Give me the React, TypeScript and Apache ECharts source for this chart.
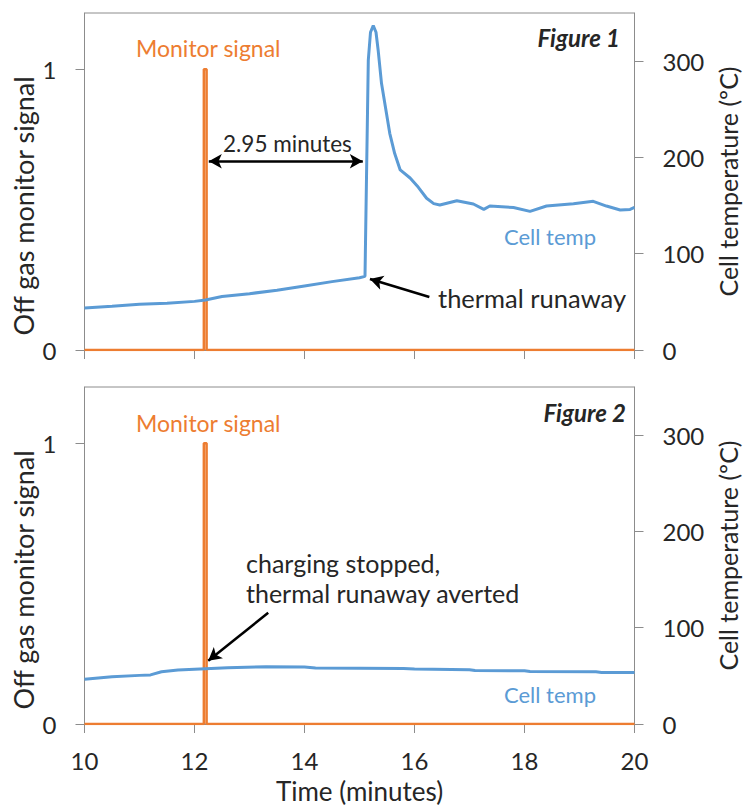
import React, { useEffect, useRef } from "react";
import * as echarts from "echarts";

// ---- data ----
const xTicks = [10, 12, 14, 16, 18, 20];
const signalTicks = [0, 1];
const tempTicks = [0, 100, 200, 300];

// Figure 1: cell temperature (°C) vs time (minutes)
const fig1Temp: [number, number][] = [
  [10, 43.6], [10.5, 45.5], [11, 47.5], [11.5, 48.5], [12, 50.5], [12.2, 52],
  [12.5, 55.5], [13, 58.5], [13.5, 62], [14, 66.5], [14.5, 71], [15, 75],
  [15.1, 76.5], [15.16, 301], [15.2, 330], [15.25, 337], [15.3, 330],
  [15.34, 311], [15.4, 277], [15.49, 246], [15.55, 225], [15.64, 204],
  [15.74, 187], [15.92, 178.6], [16.07, 169], [16.22, 157.6], [16.35, 152],
  [16.46, 150.6], [16.77, 155], [17.07, 151.6], [17.26, 146], [17.37, 149.5],
  [17.8, 148], [18.1, 144], [18.4, 149.5], [18.89, 152], [19.25, 154.4],
  [19.49, 149.5], [19.74, 145.4], [19.92, 146], [20, 148],
];
// Figure 1: off gas monitor signal
const fig1Signal: [number, number][] = [
  [10, 0], [12.17, 0], [12.17, 1], [12.22, 1], [12.22, 0], [20, 0],
];

// Figure 2: cell temperature (°C)
const fig2Temp: [number, number][] = [
  [10, 46.4], [10.5, 49], [11, 50.5], [11.2, 51], [11.4, 54.3], [11.7, 56],
  [12.2, 57.4], [12.6, 58.3], [13.3, 59.5], [14, 59.3], [14.2, 58.2],
  [15.8, 57.6], [16, 57], [17, 56.3], [17.1, 55.5], [18, 55.2], [18.1, 54.5],
  [19.3, 54.2], [19.4, 53.6], [20, 53.6],
];
// Figure 2: off gas monitor signal
const fig2Signal: [number, number][] = [
  [10, 0], [12.17, 0], [12.17, 1], [12.22, 1], [12.22, 0], [20, 0],
];

// annotation arrows (data coordinates: [minutes, °C])
const gapArrow: [number, number][] = [[12.26, 196], [15.06, 196]];
const runawayArrow: [number, number][] = [[16.27, 55], [15.19, 73.7]];
const avertedArrow: [number, number][] = [[13.34, 115.5], [12.25, 65.7]];

const ORANGE = "#ED7D31";
const BLUE = "#5B9BD5";
const TEXT = "#262626";
const AXIS = "#8c8c8c";
const FONT = "Lato, 'Open Sans', sans-serif";

export default function App() {
  const ref = useRef<HTMLDivElement>(null);

  useEffect(() => {
    document.body.style.margin = "0";
    if (!ref.current) return;
    const chart = echarts.init(ref.current, null, { renderer: "svg" });

    const gridTop = [13, 387];
    const grids = gridTop.map((t) => ({
      left: 84.5,
      right: 108.5,
      top: t,
      height: 337,
      show: true,
      borderColor: AXIS,
      borderWidth: 1,
      backgroundColor: "transparent",
      containLabel: false,
      outerBoundsMode: "none",
    }));

    const xAxes = [0, 1].map((i) => ({
      type: "value",
      gridIndex: i,
      min: 10,
      max: 20,
      interval: 2,
      axisLine: { show: true, lineStyle: { color: AXIS, width: 1 } },
      axisTick: { show: true, length: 9, lineStyle: { color: AXIS } },
      splitLine: { show: false },
      axisLabel: {
        show: i === 1,
        color: TEXT,
        fontSize: 24,
        lineHeight: 24,
        fontFamily: FONT,
        margin: 24,
        customValues: xTicks,
      },
      name: i === 1 ? "Time (minutes)" : "",
      nameLocation: "middle",
      nameGap: 54,
      nameTextStyle: { color: TEXT, fontSize: 26, fontFamily: FONT, lineHeight: 26 },
    }));

    const yAxes: any[] = [];
    [0, 1].forEach((i) => {
      yAxes.push({
        type: "value",
        gridIndex: i,
        position: "left",
        min: 0,
        max: 1.2,
        interval: 1,
        axisLine: { show: true, lineStyle: { color: AXIS } },
        axisTick: { show: true, length: 9, lineStyle: { color: AXIS }, customValues: signalTicks },
        splitLine: { show: false },
        axisLabel: {
          color: TEXT,
          fontSize: 24,
          fontFamily: FONT,
          margin: 28,
          customValues: signalTicks,
        },
      });
      yAxes.push({
        type: "value",
        gridIndex: i,
        position: "right",
        min: 0,
        max: 350,
        interval: 100,
        axisLine: { show: true, lineStyle: { color: AXIS } },
        axisTick: { show: true, length: 9, lineStyle: { color: AXIS }, customValues: tempTicks },
        splitLine: { show: false },
        axisLabel: {
          color: TEXT,
          fontSize: 24,
          fontFamily: FONT,
          margin: 28,
          customValues: tempTicks,
        },
        name: "Cell temperature (ºC)",
        nameLocation: "middle",
        nameGap: 81,
        nameRotate: 90,
        nameTextStyle: { color: TEXT, fontSize: 25, fontFamily: FONT, lineHeight: 25 },
      });
    });

    const arrowLine = (pts: [number, number][], both: boolean) => ({
      silent: true,
      symbol: both ? ["arrow", "arrow"] : ["none", "arrow"],
      symbolSize: [11, 13],
      label: { show: false },
      lineStyle: { color: "#000", width: 2.5, type: "solid" },
      emphasis: { disabled: true },
      data: [[{ coord: pts[0] }, { coord: pts[1] }]],
    });

    const series: any[] = [
      {
        type: "line",
        xAxisIndex: 0,
        yAxisIndex: 0,
        data: fig1Signal,
        showSymbol: false,
        lineStyle: { color: ORANGE, width: 2.5 },
        z: 3,
      },
      {
        type: "line",
        xAxisIndex: 0,
        yAxisIndex: 1,
        data: fig1Temp,
        showSymbol: false,
        lineStyle: { color: BLUE, width: 3 },
        z: 4,
        markLine: {
          ...arrowLine(gapArrow, true),
          data: [
            [{ coord: gapArrow[0], symbol: "arrow" }, { coord: gapArrow[1], symbol: "arrow" }],
            [{ coord: runawayArrow[0], symbol: "none" }, { coord: runawayArrow[1], symbol: "arrow" }],
          ],
        },
      },
      {
        type: "line",
        xAxisIndex: 1,
        yAxisIndex: 2,
        data: fig2Signal,
        showSymbol: false,
        lineStyle: { color: ORANGE, width: 2.5 },
        z: 3,
      },
      {
        type: "line",
        xAxisIndex: 1,
        yAxisIndex: 3,
        data: fig2Temp,
        showSymbol: false,
        lineStyle: { color: BLUE, width: 3 },
        z: 4,
        markLine: arrowLine(avertedArrow, false),
      },
    ];

    const txt = (
      text: string,
      x: number,
      y: number,
      opts: {
        color?: string;
        size?: number;
        align?: string;
        weight?: string;
        style?: string;
        rotation?: number;
      } = {}
    ) => ({
      type: "text",
      x,
      y,
      rotation: opts.rotation || 0,
      silent: true,
      style: {
        text,
        fill: opts.color || TEXT,
        fontSize: opts.size || 22,
        fontFamily: FONT,
        fontWeight: opts.weight || "normal",
        fontStyle: opts.style || "normal",
        align: opts.align || "left",
        verticalAlign: "middle",
      },
      z: 10,
    });

    const graphic = [
      txt("Off gas monitor signal", 23, 206, { size: 27, align: "center", rotation: Math.PI / 2 }),
      txt("Off gas monitor signal", 23, 580, { size: 27, align: "center", rotation: Math.PI / 2 }),
      txt("Monitor signal", 136, 48, { color: ORANGE, size: 23 }),
      txt("Figure 1", 620, 37, { align: "right", weight: "bold", style: "italic", size: 24 }),
      txt("2.95 minutes", 223, 143, { size: 22.5 }),
      txt("Cell temp", 504, 236, { color: BLUE }),
      txt("thermal runaway", 438, 298, { size: 25.5 }),
      txt("Monitor signal", 136, 423, { color: ORANGE, size: 23 }),
      txt("Figure 2", 626, 412, { align: "right", weight: "bold", style: "italic", size: 24 }),
      txt("charging stopped,", 246, 563, { size: 25 }),
      txt("thermal runaway averted", 246, 593, { size: 25 }),
      txt("Cell temp", 504, 694, { color: BLUE }),
    ];

    chart.setOption({
      animation: false,
      backgroundColor: "#fff",
      textStyle: { fontFamily: FONT },
      grid: grids,
      xAxis: xAxes,
      yAxis: yAxes,
      series,
      graphic,
    });

    return () => chart.dispose();
  }, []);

  return <div ref={ref} style={{ width: 743, height: 806 }} />;
}
